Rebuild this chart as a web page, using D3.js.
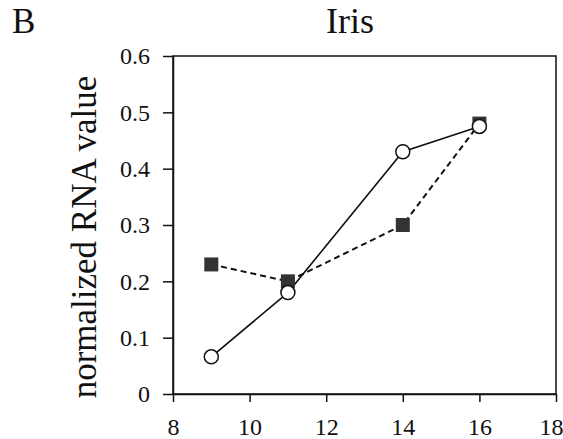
<!DOCTYPE html>
<html>
<head>
<meta charset="utf-8">
<script src="https://cdn.jsdelivr.net/npm/d3@7"></script>
<style>
  body { margin: 0; background: #fff; }
  text { font-family: "Liberation Serif", "Times New Roman", serif; fill: #111; }
</style>
</head>
<body>
<script>
// dati
var days = [9, 11, 14, 16];
var squareValues = [0.23, 0.20, 0.30, 0.48];   // quadrati pieni, linea tratteggiata
var circleValues = [0.066, 0.18, 0.43, 0.475]; // cerchi vuoti, linea continua
var xTicks = [8, 10, 12, 14, 16, 18];
var yTicks = [0, 0.1, 0.2, 0.3, 0.4, 0.5, 0.6];

var w = 563, h = 439;
var plotLeft = 173, plotRight = 556, plotTop = 56, plotBottom = 394;

var svg = d3.select("body").append("svg")
    .attr("width", w)
    .attr("height", h);

var x = d3.scaleLinear().domain([8, 18]).range([plotLeft, plotRight]);
var y = d3.scaleLinear().domain([0, 0.6]).range([plotBottom, plotTop]);

// cornice
svg.append("rect")
   .attr("x", plotLeft).attr("y", plotTop)
   .attr("width", plotRight - plotLeft).attr("height", plotBottom - plotTop)
   .attr("fill", "none").attr("stroke", "#111").attr("stroke-width", 1.5);

// asse x
var gx = svg.append("g")
    .attr("transform", "translate(0," + plotBottom + ")")
    .call(d3.axisBottom(x).tickValues(xTicks).tickSize(8).tickSizeOuter(0).tickPadding(16));
gx.selectAll("text").attr("font-size", 24).style("font-family", "Liberation Serif, serif");
// l'ultima etichetta resta dentro la finestra
gx.selectAll(".tick").filter(function(d) { return d === 18; })
  .select("text").attr("text-anchor", "end").attr("x", 7);

// asse y
var gy = svg.append("g")
    .attr("transform", "translate(" + plotLeft + ",0)")
    .call(d3.axisLeft(y).tickValues(yTicks).tickSize(10).tickSizeOuter(0).tickPadding(13)
        .tickFormat(function(d) { return d === 0 ? "0" : d3.format(".1f")(d); }));
gy.selectAll("text").attr("font-size", 24).style("font-family", "Liberation Serif, serif");

[gx, gy].forEach(function(g) {
    g.select(".domain").attr("stroke", "#111").attr("stroke-width", 1.5);
    g.selectAll(".tick line").attr("stroke", "#111").attr("stroke-width", 1.5);
});

// linee
var line = d3.line()
    .x(function(d) { return x(d[0]); })
    .y(function(d) { return y(d[1]); });

var squarePts = d3.zip(days, squareValues);
var circlePts = d3.zip(days, circleValues);

svg.append("path")
   .attr("d", line(squarePts))
   .attr("fill", "none").attr("stroke", "#111")
   .attr("stroke-width", 2).attr("stroke-dasharray", "6,4");

svg.append("path")
   .attr("d", line(circlePts))
   .attr("fill", "none").attr("stroke", "#111")
   .attr("stroke-width", 1.6);

// marcatori
var sq = 14;
svg.selectAll("rect.sq").data(squarePts).enter().append("rect")
   .attr("class", "sq")
   .attr("x", function(d) { return x(d[0]) - sq/2; })
   .attr("y", function(d) { return y(d[1]) - sq/2; })
   .attr("width", sq).attr("height", sq)
   .attr("fill", "#333");

svg.selectAll("circle.ci").data(circlePts).enter().append("circle")
   .attr("class", "ci")
   .attr("cx", function(d) { return x(d[0]); })
   .attr("cy", function(d) { return y(d[1]); })
   .attr("r", 7)
   .attr("fill", "#fff").attr("stroke", "#111").attr("stroke-width", 1.5);

// titoli
svg.append("text")
   .attr("x", 350).attr("y", 33)
   .attr("text-anchor", "middle")
   .attr("font-size", 36)
   .text("Iris");

svg.append("text")
   .attr("x", 12).attr("y", 33)
   .attr("font-size", 35)
   .text("B");

svg.append("text")
   .attr("transform", "translate(96," + ((plotTop + plotBottom) / 2 + 12) + ") rotate(-90)")
   .attr("text-anchor", "middle")
   .attr("font-size", 35)
   .text("normalized RNA value");
</script>
</body>
</html>
